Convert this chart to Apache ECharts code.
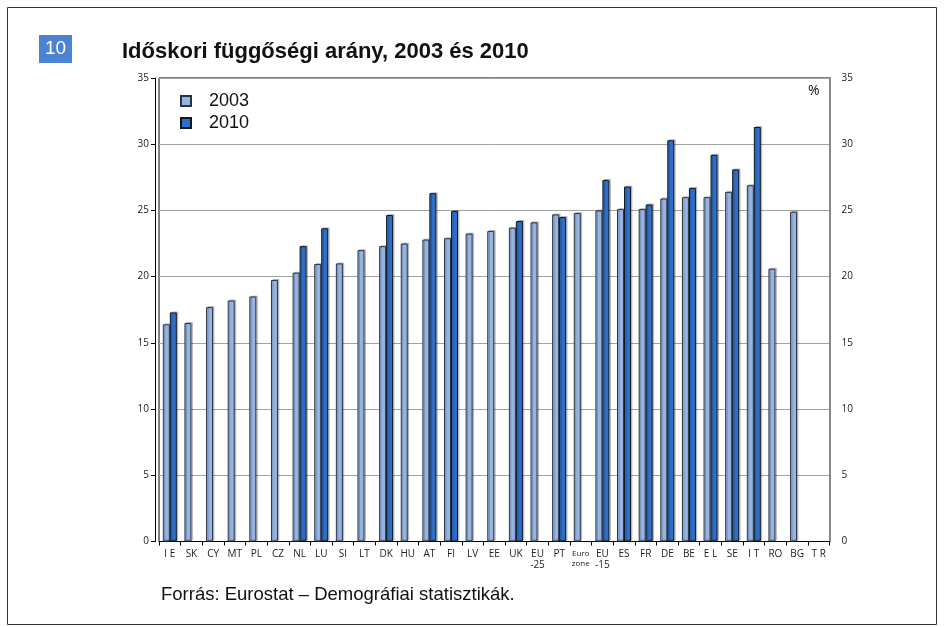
<!DOCTYPE html>
<html>
<head>
<meta charset="utf-8">
<script src="https://cdn.jsdelivr.net/npm/echarts@6/dist/echarts.min.js"></script>
<style>
  html, body { margin: 0; padding: 0; background: #fff; }
  #chart { width: 944px; height: 627px; }
</style>
</head>
<body>
<div id="chart"></div>
<script>
// idoskori fuggosegi arany (%), 2003 es 2010
const categories = ["IE", "SK", "CY", "MT", "PL", "CZ", "NL", "LU", "SI", "LT", "DK", "HU", "AT", "FI", "LV",
  "EE", "UK", "EU-25", "PT", "Euro zone", "EU-15", "ES", "FR", "DE", "BE", "EL", "SE", "IT", "RO", "BG", "TR"];
const tickLabels = ["I E", "SK", "CY", "MT", "PL", "CZ", "NL", "LU", "SI", "LT", "DK", "HU", "AT", "FI", "LV",
  "EE", "UK", "EU\n-25", "PT", "{s|Euro\nzone}", "EU\n-15", "ES", "FR", "DE", "BE", "E L", "SE", "I T", "RO", "BG", "T R"];
const values2003 = [16.4, 16.5, 17.7, 18.2, 18.5, 19.75, 20.3, 20.95, 21.0, 22.0, 22.3, 22.5, 22.8, 22.9, 23.25,
  23.45, 23.7, 24.1, 24.7, 24.8, 25.0, 25.1, 25.1, 25.9, 26.0, 26.0, 26.4, 26.9, 20.6, 24.9, null];
const values2010 = [17.3, null, null, null, null, null, 22.3, 23.65, null, null, 24.65, null, 26.3, 24.95, null,
  null, 24.2, null, 24.5, null, 27.3, 26.8, 25.45, 30.3, 26.7, 29.2, 28.1, 31.3, null, null, null];
const yTicks = [0, 5, 10, 15, 20, 25, 30, 35];

const chart = echarts.init(document.getElementById("chart"));
const font = "'Liberation Sans', Arial, sans-serif";
const axisFont = "'Open Sans', 'DejaVu Sans', sans-serif";

function yAxisBase(pos) {
  return {
    type: "value",
    position: pos,
    min: yTicks[0],
    max: yTicks[yTicks.length - 1],
    interval: 5,
    axisLabel: { fontSize: 10, color: "#222", fontFamily: axisFont },
  };
}

chart.setOption({
  animation: false,
  backgroundColor: "#fff",
  title: [
    {
      text: "Időskori függőségi arány, 2003 és 2010",
      left: 122, top: 41, padding: 0,
      textStyle: { fontSize: 22, fontWeight: "bold", color: "#111", fontFamily: font },
    },
    {
      text: "Forrás: Eurostat – Demográfiai statisztikák.",
      left: 161, top: 585, padding: 0,
      textStyle: { fontSize: 18.5, fontWeight: "normal", color: "#111", fontFamily: font },
    },
  ],
  graphic: [
    { type: "rect", shape: { x: 7.5, y: 7.5, width: 929, height: 617 }, style: { fill: "none", stroke: "#333", lineWidth: 1 }, silent: true },
    { type: "rect", shape: { x: 39, y: 35, width: 33, height: 28 }, style: { fill: "#4b82d2" }, silent: true },
    { type: "text", x: 55.5, y: 49, style: { text: "10", fill: "#fff", fontSize: 19, fontFamily: font, align: "center", verticalAlign: "middle" }, silent: true },
    { type: "text", x: 808, y: 84, style: { text: "%", fill: "#111", fontSize: 14, fontFamily: axisFont }, silent: true },
  ],
  legend: {
    data: ["2003", "2010"],
    orient: "vertical",
    left: 180, top: 92,
    padding: 0,
    icon: "rect",
    itemWidth: 10, itemHeight: 10, itemGap: 4,
    textStyle: { fontSize: 18, color: "#111", fontFamily: font, padding: [0, 0, 0, 13], lineHeight: 18 },
  },
  grid: { left: 159, right: 114.5, top: 78, bottom: 85.5, show: true, borderColor: "#000", borderWidth: 1, outerBoundsMode: "none" },
  xAxis: {
    type: "category",
    data: categories,
    axisLine: { lineStyle: { color: "#000", width: 1 } },
    axisTick: { show: true, interval: 0, length: 4, lineStyle: { color: "#000" } },
    axisLabel: {
      interval: 0, margin: 7, fontSize: 10, lineHeight: 11, color: "#222", fontFamily: axisFont,
      formatter: (v, i) => tickLabels[i],
      rich: { s: { fontSize: 8, lineHeight: 10, color: "#222", fontFamily: axisFont } },
    },
  },
  yAxis: [
    Object.assign(yAxisBase("left"), {
      offset: 4,
      axisLine: { show: true, lineStyle: { color: "#000" } },
      axisTick: { show: true, length: 4, lineStyle: { color: "#000" } },
      axisLabel: { fontSize: 10, color: "#222", fontFamily: axisFont, margin: 6 },
      splitLine: { lineStyle: { color: "#a2a2a2", width: 1 } },
    }),
    Object.assign(yAxisBase("right"), {
      axisLine: { show: true, lineStyle: { color: "#888", width: 2 } },
      axisTick: { show: false },
      axisLabel: { fontSize: 10, color: "#222", fontFamily: axisFont, margin: 12 },
      splitLine: { show: false },
    }),
  ],
  series: [
    {
      name: "2003", type: "bar", data: values2003,
      barWidth: 7, barGap: "0%",
      itemStyle: { color: "#95b4e2", borderColor: "#2a3340", borderWidth: 1,
        shadowColor: "rgba(0,0,0,0.2)", shadowOffsetX: 1.5, shadowOffsetY: -1 },
    },
    {
      name: "2010", type: "bar", data: values2010,
      barWidth: 7, barGap: "0%",
      itemStyle: { color: "#2e6ec9", borderColor: "#101820", borderWidth: 1,
        shadowColor: "rgba(0,0,0,0.2)", shadowOffsetX: 1.5, shadowOffsetY: -1 },
    },
  ],
});
</script>
</body>
</html>
